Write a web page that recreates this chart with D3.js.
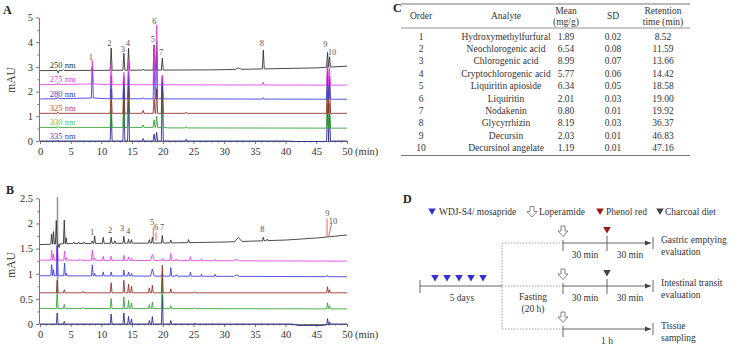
<!DOCTYPE html>
<html><head><meta charset="utf-8">
<script src="https://cdn.jsdelivr.net/npm/d3@7"></script>
<style>
body{margin:0;background:#fff}
svg{display:block}
svg text{font-family:"Liberation Serif","Times New Roman",Times,"DejaVu Serif",serif !important}
</style>
</head><body>
<svg id="c" width="745" height="346" font-family="Liberation Serif, Times New Roman, serif"></svg>
<script>
// ---------------- DATA ----------------
const timeTicks = [0,5,10,15,20,25,30,35,40,45,50];
const yTicksA = [0,1,2,3,4,5];
const yTicksB = [0,0.5,1,1.5,2,2.5];
const wavelengths = ["250 nm","275 nm","280 nm","325 nm","330 nm","335 nm"];
const traceColors = ["#2a2a2a","#e23be2","#3535e0","#8f2a22","#2f9e2f","#24248e"];
const labelColors = ["#333333","#e040e0","#3c3cd0","#d04545","#55c455","#4444c4"];

// Panel A baselines [time, mAU]
const baseA250 = [[0,2.85],[28,2.88],[45,2.96],[50,3.03]];
const baseA275 = [[0,2.28],[8.7,2.31],[11,2.28],[50,2.26]];
const baseA280 = [[0,1.70],[8.7,1.74],[11,1.71],[50,1.69]];
const baseA325 = [[0,1.12],[50,1.12]];
const baseA330 = [[0,0.55],[20,0.55],[21,0.53],[50,0.52]];
const baseA335 = [[0,0],[40,0],[42,-0.02],[46,-0.02],[48,0],[50,0]];
// Panel A peaks [retention time, height above baseline, (half width)]
const peaksA250 = [[2.95,-0.1],[3.8,0.04],[8.52,0.1],[11.59,0.9],[13.66,0.69],[14.42,0.89],[16.8,0.05],[18.58,1.02],[19.0,1.15],[19.92,0.48],[32.3,0.06,0.5],[36.37,0.76],[46.83,0.6],[47.16,0.42]];
const peaksA275 = [[2.9,0.06],[8.52,0.96],[11.59,0.9],[13.66,0.5],[14.42,0.95],[18.58,1.5],[19.0,2.42],[19.92,0.4],[36.37,0.12],[46.83,1.0],[47.16,0.7]];
const peaksA280 = [[2.9,0.06],[8.52,1.3],[11.59,0.95],[13.66,0.9],[14.42,1.1],[16.8,0.05],[18.58,1.5],[19.0,1.9],[19.92,0.8],[36.37,0.06],[46.83,1.25],[47.16,0.8]];
const peaksA325 = [[2.9,0.05],[11.59,1.0],[13.66,1.3],[14.42,1.45],[16.8,0.12],[18.58,0.6],[19.0,1.0],[19.92,1.5],[23.8,0.05],[46.83,1.9],[47.16,1.5]];
const peaksA330 = [[2.9,0.04],[11.59,1.1],[13.66,1.45],[14.42,1.7],[16.8,0.1],[18.58,0.3],[19.0,0.45],[19.92,1.85],[23.8,0.05],[46.83,1.5],[47.16,1.0]];
const peaksA335 = [[2.9,0.04],[11.59,1.2],[13.66,1.55],[14.42,1.6],[16.8,0.1],[18.58,0.28],[19.0,0.35],[19.92,2.2],[23.8,0.07],[46.83,1.5],[47.16,1.1]];
const peakLabelsA = [["1",8.27,3.41],["2",11.3,3.98],["3",13.48,3.71],["4",14.3,3.96],["5",18.38,4.12],["6",18.64,4.87],["7",19.73,3.62],["8",36.15,3.96],["9",46.47,3.93],["10",47.56,3.59]];

// Panel B baselines
const baseB250 = [[0,1.58],[5,1.60],[20,1.61],[30,1.63],[40,1.67],[45,1.71],[50,1.77]];
const baseB275 = [[0,1.27],[50,1.25]];
const baseB280 = [[0,0.96],[50,0.94]];
const baseB325 = [[0,0.62],[50,0.62]];
const baseB330 = [[0,0.31],[50,0.30]];
const baseB335 = [[0,0],[41,0],[42,-0.03],[46,-0.03],[47.5,0],[50,0]];
// Panel B peaks
const peaksB250 = [[1.9,0.2],[2.2,0.25],[2.65,0.47],[3.1,-0.07],[3.95,0.47],[4.25,0.12],[5.5,0.03],[6.3,0.03],[7.2,0.03],[8.5,0.05],[8.9,0.15],[10.3,0.12],[11.59,0.12],[12.2,0.05],[13.66,0.14],[14.42,0.08],[14.9,0.07],[17.8,0.07],[18.3,0.12],[19.92,0.15],[21.3,0.06],[24.2,0.06],[32.3,0.08,0.6],[36.37,0.07],[37.0,0.03]];
const peaksB275 = [[1.9,0.2],[2.2,0.12],[2.8,0.3],[4.0,0.18],[4.3,0.05],[6.5,0.02],[8.52,0.2],[8.9,0.05],[10.3,0.08],[11.59,0.08],[13.66,0.1],[14.42,0.07],[14.9,0.04],[18.3,0.12,0.3],[19.92,0.04],[21.3,0.14],[22.2,0.03],[24.5,0.08],[26.3,0.04],[28.5,0.03],[32,0.03,0.5]];
const peaksB280 = [[1.9,0.22],[2.2,0.12],[2.8,0.6],[4.0,0.25],[4.3,0.05],[8.52,0.22],[8.9,0.05],[10.3,0.08],[11.59,0.08],[13.66,0.12],[14.42,0.08],[14.9,0.05],[18.3,0.14,0.3],[19.92,0.05],[21.3,0.17],[22.2,0.03],[24.5,0.08],[26.3,0.04],[28.5,0.04],[32,0.03,0.5],[46.83,0.03]];
const peaksB325 = [[2.8,0.25],[3.95,0.06],[7.0,0.03],[11.59,0.2],[13.66,0.25],[14.42,0.17],[14.9,0.13],[17.8,0.1],[18.3,0.15],[19.92,0.55],[21.3,0.08],[25.2,0.02],[46.83,0.12],[47.16,0.06]];
const peaksB330 = [[2.8,0.35],[3.95,0.08],[7.0,0.02],[11.59,0.2],[13.66,0.23],[14.42,0.16],[14.9,0.11],[17.8,0.08],[18.3,0.13],[19.92,0.6],[21.3,0.06],[25.2,0.02],[46.83,0.12],[47.16,0.06]];
const peaksB335 = [[2.8,0.22],[3.95,0.05],[11.59,0.2],[13.66,0.22],[14.42,0.15],[14.9,0.1],[17.8,0.07],[18.3,0.15],[19.92,0.57],[21.3,0.07],[25.2,0.02],[46.83,0.12],[47.16,0.05]];
const solventFrontB = [2.85, 0.62, 2.55];
const markerSegmentsB = [[18.45,1.66,18.45,1.92],[18.9,1.66,18.9,1.82],[46.75,1.74,46.75,2.1],[47.0,1.74,47.5,2.0]];
const peakLabelsB = [["1",8.48,1.83],["2",11.41,1.87],["3",13.37,1.91],["4",14.35,1.85],["5",18.26,2.03],["6",18.91,1.93],["7",19.89,1.93],["8",36.2,1.89],["9",46.8,2.21],["10",47.7,2.05]];

// Panel C table
const tableHeader = [["Order"],["Analyte"],["Mean","(mg/g)"],["SD"],["Retention","time (min)"]];
const tableOrder = ["1","2","3","4","5","6","7","8","9","10"];
const tableAnalyte = ["Hydroxymethylfurfural","Neochlorogenic acid","Chlorogenic acid","Cryptochlorogenic acid","Liquiritin apioside","Liquiritin","Nodakenin","Glycyrrhizin","Decursin","Decursinol angelate"];
const tableMean = ["1.89","6.54","8.99","5.77","6.34","2.01","0.80","8.19","2.03","1.19"];
const tableSD = ["0.02","0.08","0.07","0.06","0.05","0.03","0.01","0.03","0.01","0.01"];
const tableRT = ["8.52","11.59","13.66","14.42","18.58","19.00","19.92","36.37","46.83","47.16"];

// Panel D texts
const legendD = ["WDJ-S4/ mosapride","Loperamide","Phenol red","Charcoal diet"];
const outcomesD = [["Gastric emptying","evaluation"],["Intestinal transit","evaluation"],["Tissue","sampling"]];

// ---------------- DRAW ----------------
const FONT = '"Liberation Serif","Times New Roman",Times,serif';
const svg = d3.select("#c");
const axisColor = "#555";
const textColor = "#333";

function tracePath(base, peaks, x, y, w0) {
  const bf = d3.scaleLinear().domain(base.map(d=>d[0])).range(base.map(d=>d[1])).clamp(true);
  const ts = new Set(base.map(d=>d[0]));
  peaks.forEach(p => { const w = p[2]||w0; ts.add(p[0]-w); ts.add(p[0]); ts.add(p[0]+w); });
  const arr = [...ts].filter(t=>t>=0&&t<=50).sort((a,b)=>a-b);
  const pts = arr.map(t => [t, bf(t) + d3.sum(peaks, p => { const w=p[2]||w0; const dd=Math.abs(t-p[0]); return dd<w ? p[1]*(1-dd/w) : 0; })]);
  return d3.line().x(d=>x(d[0])).y(d=>y(d[1]))(pts);
}

function drawAxes(g, x, y, yTicks, y0px, labelY, tickFmt, minorY) {
  const xa = g.append("g").attr("transform",`translate(0,${y0px})`)
    .call(d3.axisBottom(x).tickValues(timeTicks).tickSize(3).tickSizeOuter(0).tickPadding(4));
  const xm = g.append("g").attr("transform",`translate(0,${y0px})`)
    .call(d3.axisBottom(x).tickValues(d3.range(0,51,1).filter(v=>v%5)).tickSize(1.5).tickFormat(""));
  xm.select(".domain").remove();
  const ya = g.append("g").attr("transform",`translate(${x(0)-1},0)`)
    .call(d3.axisLeft(y).tickValues(yTicks).tickSize(3).tickSizeOuter(0).tickPadding(3).tickFormat(tickFmt));
  const ym = g.append("g").attr("transform",`translate(${x(0)-1},0)`)
    .call(d3.axisLeft(y).tickValues(minorY).tickSize(1.5).tickFormat(""));
  ym.select(".domain").remove();
  [xa,xm,ya,ym].forEach(a => {
    a.attr("font-family",FONT);
    a.selectAll("path,line").attr("stroke",axisColor).attr("stroke-width",0.8);
    a.selectAll("text").attr("fill",textColor).attr("font-size","10.5px").style("font-family",FONT);
  });
  g.append("text").attr("x",x(50)+8).attr("y",y0px+14).attr("font-size","10.5px").attr("fill",textColor).text("(min)");
  g.append("text").attr("transform",`translate(15,${labelY}) rotate(-90)`).attr("text-anchor","middle")
    .attr("font-size","11.5px").attr("fill",textColor).text("mAU");
}

// ---------- Panel A ----------
const xA = d3.scaleLinear().domain([0,50]).range([40,347]);
const yA = d3.scaleLinear().domain([0,5]).range([141,17.5]);
const gA = svg.append("g");
gA.append("text").attr("x",3).attr("y",14).attr("font-size","12px").attr("font-weight","bold").attr("fill","#222").text("A");
drawAxes(gA, xA, yA, yTicksA, 141, 80, d3.format("d"), [0.5,1.5,2.5,3.5,4.5]);
const basesA = [baseA250,baseA275,baseA280,baseA325,baseA330,baseA335];
const peaksAll_A = [peaksA250,peaksA275,peaksA280,peaksA325,peaksA330,peaksA335];
const orderA = [5,4,3,2,0,1];
orderA.forEach(i => {
  gA.append("path").attr("d", tracePath(basesA[i], peaksAll_A[i], xA, yA, 0.16))
    .attr("fill","none").attr("stroke",traceColors[i]).attr("stroke-width",0.85).attr("stroke-linejoin","round");
});
wavelengths.forEach((w,i) => {
  gA.append("text").attr("x",xA(1.6)).attr("y",yA(basesA[i][0][1])-2.5)
    .attr("font-size","8.5px").attr("fill",labelColors[i]).text(w);
});
gA.selectAll(".pla").data(peakLabelsA).enter().append("text")
  .attr("x",d=>xA(d[1])).attr("y",d=>yA(d[2])).attr("text-anchor","middle").attr("dominant-baseline","central")
  .attr("font-size","8.5px").attr("fill","#555").text(d=>d[0]);

// ---------- Panel B ----------
const xB = d3.scaleLinear().domain([0,50]).range([40,347]);
const yB = d3.scaleLinear().domain([0,2.5]).range([324,198.3]);
const gB = svg.append("g");
gB.append("text").attr("x",6).attr("y",194).attr("font-size","12px").attr("font-weight","bold").attr("fill","#222").text("B");
drawAxes(gB, xB, yB, yTicksB, 324, 265, d => d===0?"0":(d%1===0?d3.format("d")(d):d3.format(".1f")(d)), [0.25,0.75,1.25,1.75,2.25]);
svg.append("clipPath").attr("id","clipB").append("rect").attr("x",40).attr("y",197).attr("width",310).attr("height",130);
const basesB = [baseB250,baseB275,baseB280,baseB325,baseB330,baseB335];
const peaksAll_B = [peaksB250,peaksB275,peaksB280,peaksB325,peaksB330,peaksB335];
const gBt = gB.append("g").attr("clip-path","url(#clipB)");
gBt.append("line").attr("x1",xB(solventFrontB[0])).attr("x2",xB(solventFrontB[0]))
  .attr("y1",yB(solventFrontB[1])).attr("y2",yB(solventFrontB[2])).attr("stroke","#9a9a9a").attr("stroke-width",1.6);
[0,1,2,5,4,3].forEach(i => {
  gBt.append("path").attr("d", tracePath(basesB[i], peaksAll_B[i], xB, yB, 0.14))
    .attr("fill","none").attr("stroke",traceColors[i]).attr("stroke-width",0.85).attr("stroke-linejoin","round");
});
gB.selectAll(".mk").data(markerSegmentsB).enter().append("line")
  .attr("x1",d=>xB(d[0])).attr("y1",d=>yB(d[1])).attr("x2",d=>xB(d[2])).attr("y2",d=>yB(d[3]))
  .attr("stroke","#d9534f").attr("stroke-width",0.9);
gB.selectAll(".plb").data(peakLabelsB).enter().append("text")
  .attr("x",d=>xB(d[1])).attr("y",d=>yB(d[2])).attr("text-anchor","middle").attr("dominant-baseline","central")
  .attr("font-size","8.5px").attr("fill","#555").text(d=>d[0]);

// ---------- Panel C ----------
const gC = svg.append("g");
gC.append("text").attr("x",393).attr("y",12).attr("font-size","12px").attr("font-weight","bold").attr("fill","#222").text("C");
const colX = [421,506,566,613,663];
const tL = 401, tR = 690;
[[4,1.2],[28,0.8],[155.5,1.2]].forEach(([yy,sw]) => gC.append("line").attr("x1",tL).attr("x2",tR).attr("y1",yy).attr("y2",yy).attr("stroke","#777").attr("stroke-width",sw));
tableHeader.forEach((h,i) => {
  h.forEach((s,j) => {
    const yy = h.length===1 ? 16 : (j===0?10.5:21.5);
    gC.append("text").attr("x",colX[i]).attr("y",yy).attr("text-anchor","middle").attr("dominant-baseline","central")
      .attr("font-size","9.5px").attr("fill",textColor).text(s);
  });
});
const cols = [tableOrder,tableAnalyte,tableMean,tableSD,tableRT];
cols.forEach((col,i) => {
  col.forEach((s,r) => {
    gC.append("text").attr("x",colX[i]).attr("y",36.5+r*12.4).attr("text-anchor","middle").attr("dominant-baseline","central")
      .attr("font-size","9.5px").attr("fill",textColor).text(s);
  });
});

// ---------- Panel D ----------
const gD = svg.append("g");
const fD = "9.5px";
gD.append("text").attr("x",403).attr("y",203).attr("font-size","12px").attr("font-weight","bold").attr("fill","#222").text("D");
function tri(cx, ty, color) {
  gD.append("path").attr("d",`M${cx-3.8},${ty}L${cx+3.8},${ty}L${cx},${ty+6.5}Z`).attr("fill",color);
}
function hollow(cx, ty) {
  gD.append("path").attr("d",`M${cx-2},${ty}L${cx+2},${ty}L${cx+2},${ty+5}L${cx+5},${ty+5}L${cx},${ty+10.5}L${cx-5},${ty+5}L${cx-2},${ty+5}Z`)
    .attr("fill","#fff").attr("stroke","#777").attr("stroke-width",0.9);
}
function txt(x,y,s,anchor) {
  gD.append("text").attr("x",x).attr("y",y).attr("text-anchor",anchor||"start").attr("dominant-baseline","central")
    .attr("font-size",fD).attr("fill",textColor).text(s);
}
function vline(x,y1,y2){ gD.append("line").attr("x1",x).attr("x2",x).attr("y1",y1).attr("y2",y2).attr("stroke","#555").attr("stroke-width",0.9); }
function hline(x1,x2,y,dash){ gD.append("line").attr("x1",x1).attr("x2",x2).attr("y1",y).attr("y2",y).attr("stroke",dash?"#999":"#555").attr("stroke-width",0.9).attr("stroke-dasharray",dash?"1.5,1.5":null); }
function arrowEnd(x,y){ gD.append("path").attr("d",`M${x-6},${y-2.5}L${x},${y}L${x-6},${y+2.5}Z`).attr("fill","#444"); vline(x+2,y-6,y+6); }

tri(432,208.5,"#3030d8"); txt(439,212,legendD[0]);
hollow(532,206.5); txt(539,212,legendD[1]);
tri(600,208.5,"#9a1a1a"); txt(606,212,legendD[2]);
tri(660,208.5,"#444"); txt(665,212,legendD[3]);

const rowsY = [243,286,329];
gD.append("path").attr("d",`M563,243L502,243L502,329L563,329`).attr("fill","none").attr("stroke","#999").attr("stroke-width",0.9).attr("stroke-dasharray","1.5,1.5");
hline(502,563,286,true);
hline(420,502,286); vline(420,280,293);
[435,447,459,471,483].forEach(cx => tri(cx,275,"#3030d8"));
txt(462,298,"5 days","middle");
txt(533,297,"Fasting","middle"); txt(533,309,"(20 h)","middle");
rowsY.forEach((yy,k) => {
  hline(563,651,yy); arrowEnd(651,yy);
  vline(563,yy-3,yy+8);
  hollow(563,yy-17);
  const o = outcomesD[k];
  txt(661,yy-3,o[0]); txt(661,yy+9,o[1]);
});
vline(607,236,251); tri(607,227,"#9a1a1a");
vline(607,279,294); tri(607,270,"#444");
txt(585,255,"30 min","middle"); txt(630,255,"30 min","middle");
txt(585,298,"30 min","middle"); txt(630,298,"30 min","middle");
txt(607,341,"1 h","middle");
</script>
</body></html>
